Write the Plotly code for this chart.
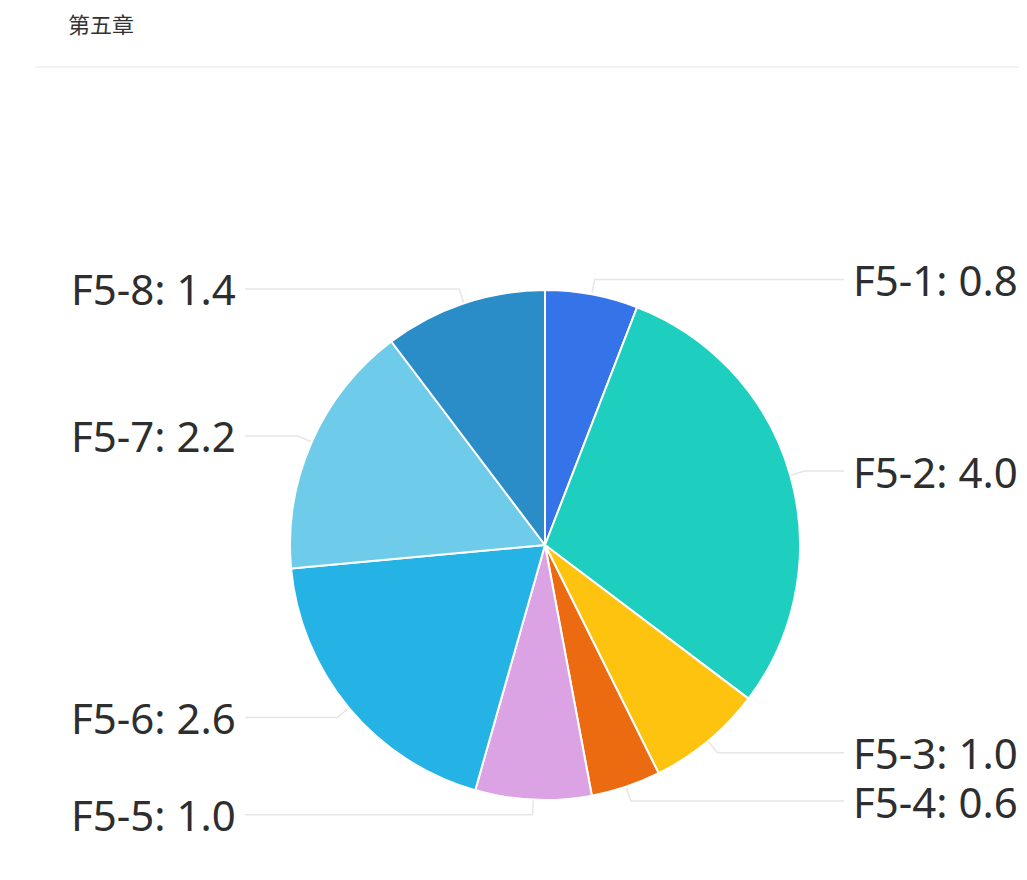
import math
import plotly.graph_objects as go

# ---- data ----
labels = ["F5-1", "F5-2", "F5-3", "F5-4", "F5-5", "F5-6", "F5-7", "F5-8"]
values = [0.8, 4.0, 1.0, 0.6, 1.0, 2.6, 2.2, 1.4]
colors = ["#3574E8", "#1ECFC0", "#FDC30F", "#EC6A10", "#DBA2E4", "#25B2E5", "#6FCBEA", "#2A8DC8"]
title_text = "第五章"

# ---- layout geometry (target pixels in the window) ----
PAGE_MARGIN = 8    # default body margin of the html page
W, H = 1027 - 2 * PAGE_MARGIN, 880 - 2 * PAGE_MARGIN
CX, CY, R = 545, 545, 255
L1 = 15            # first leader segment
RIGHT_LINE_END, LEFT_LINE_END = 844, 245
RIGHT_TEXT_X, LEFT_TEXT_X = 851, 238
LINE_COLOR = "#E6E6E6"


def px(x):
    return (x - PAGE_MARGIN) / W


def py(y):
    return 1 - (y - PAGE_MARGIN) / H


fig = go.Figure()
fig.add_trace(go.Pie(
    labels=labels, values=values, sort=False, direction="clockwise", rotation=0,
    marker=dict(colors=colors, line=dict(color="white", width=2)),
    textinfo="none", hoverinfo="label+value", showlegend=False,
    domain=dict(x=[px(CX - R), px(CX + R)], y=[py(CY + R), py(CY - R)]),
))

shapes = []
annotations = []
total = sum(values)
cum = 0.0
for lab, v in zip(labels, values):
    mid = (cum + v / 2) / total * 2 * math.pi
    cum += v
    sx, sy = CX + R * math.sin(mid), CY - R * math.cos(mid)
    mx, my = CX + (R + L1) * math.sin(mid), CY - (R + L1) * math.cos(mid)
    right = math.sin(mid) >= 0
    ex = RIGHT_LINE_END if right else LEFT_LINE_END
    path = f"M {px(sx)} {py(sy)} L {px(mx)} {py(my)} L {px(ex)} {py(my)}"
    shapes.append(dict(type="path", xref="paper", yref="paper", path=path,
                       line=dict(color=LINE_COLOR, width=1.5), layer="below"))
    annotations.append(dict(
        x=px(RIGHT_TEXT_X if right else LEFT_TEXT_X), y=py(my), xref="paper", yref="paper",
        text=f"{lab}: {v:.1f}", showarrow=False,
        xanchor="left" if right else "right", yanchor="middle",
        font=dict(family="Noto Sans, Open Sans, sans-serif", size=42, color="#2E2E2E"),
    ))

# title and separator
annotations.append(dict(x=px(66), y=py(23), xref="paper", yref="paper", text=title_text,
                        showarrow=False, xanchor="left", yanchor="middle",
                        font=dict(family="Noto Sans CJK SC", size=22, color="#333333")))
shapes.append(dict(type="line", xref="paper", yref="paper", x0=px(35), x1=1, y0=py(67), y1=py(67),
                   line=dict(color="#EEEEEE", width=1.5)))

fig.update_layout(width=W, height=H, margin=dict(l=0, r=0, t=0, b=0),
                  paper_bgcolor="white", plot_bgcolor="white",
                  shapes=shapes, annotations=annotations)

fig.write_html("out.html")
